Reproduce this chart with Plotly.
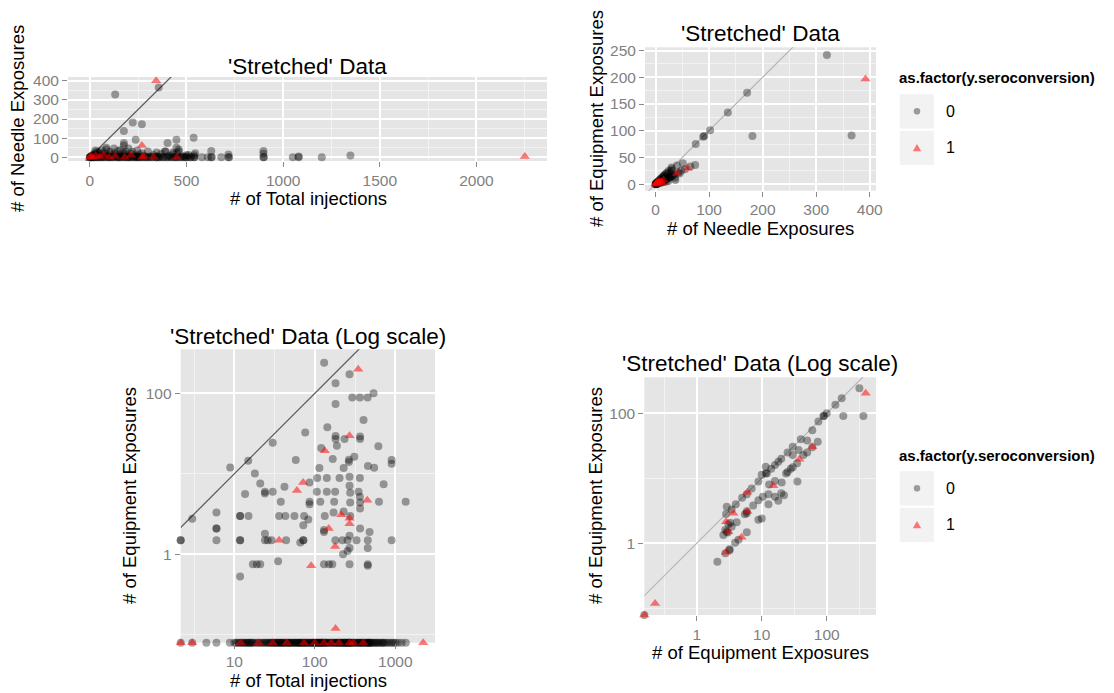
import plotly.graph_objects as go

W, H = 1114, 693
OFF = 8  # page body margin of the exported html
FONT = "Liberation Sans, Arial, sans-serif"

# ---------------- data ----------------
# Panel 1: total injections (x) vs needle exposures (y)
p1_x0 = [131, 356, 222, 269, 176, 237, 402, 448, 448, 537, 176, 176, 85, 628, 628, 717, 717, 898, 898, 898,
         1050, 1080, 1080, 1200, 1348, 580, 610, 680, 540, 540, 450, 500,
         0, 2, 5, 8, 10, 12, 15, 18, 20, 22, 25, 28, 30, 33, 36, 40, 45, 48, 50, 55, 60, 62, 65, 70, 75, 80,
         85, 90, 95, 100, 105, 110, 115, 120, 125, 130, 135, 140, 145, 150, 155, 160, 165, 170, 175, 180,
         185, 190, 195, 200, 205, 210, 215, 220, 225, 230, 240, 245, 250, 255, 260, 270, 275, 280, 290,
         300, 310, 320, 330, 340, 345, 350, 360, 370, 380, 390, 400, 410, 420, 430, 440, 450, 460, 470,
         480, 490, 500, 510, 520, 545, 28, 390, 430, 460, 100, 150, 200, 250, 300, 350, 120, 180, 240,
         0, 6, 12, 24, 36, 48, 60, 72, 90, 108, 126, 144, 162, 180, 198, 216, 234, 252, 270, 288, 306,
         324, 342, 360, 378, 396, 414, 432, 450, 468, 486, 504, 522, 540, 630, 720, 900]
p1_y0 = [328, 365, 182, 172, 137, 91, 74, 91, 49, 102, 74, 61, 50, 32, 0, 14, 0, 32, 18, 0,
         0, 4, 0, 0, 9, 0, 0, 0, 0, 10, 20, 10,
         0, 0, 2, 5, 0, 10, 3, 8, 0, 15, 5, 20, 0, 10, 30, 5, 0, 18, 25, 8, 0, 35, 12, 3, 20, 0,
         40, 10, 5, 0, 28, 15, 3, 0, 45, 20, 8, 0, 32, 12, 0, 38, 5, 22, 0, 15,
         30, 0, 8, 45, 3, 0, 18, 28, 0, 10, 0, 35, 5, 15, 0, 20, 0, 8, 0,
         30, 3, 0, 12, 0, 25, 5, 0, 18, 0, 30, 0, 8, 0, 15, 0, 0, 28, 0,
         5, 0, 0, 12, 0, 20, 35, 30, 25, 40, 0, 0, 0, 0, 0, 0, 5, 3, 2,
         0, 0, 0, 0, 0, 0, 0, 0, 0, 0, 0, 0, 0, 0, 0, 0, 0, 0, 0, 0, 0,
         0, 0, 0, 0, 0, 0, 0, 0, 0, 0, 0, 0, 0, 0, 0, 0]
p1_x1 = [343, 269, 0, 5, 15, 30, 50, 70, 100, 130, 180, 213, 270, 280, 330, 450, 2250]
p1_y1 = [400, 61, 0, 3, 0, 8, 2, 12, 0, 5, 0, 10, 0, 5, 0, 0, 4]

# Panel 2: needle exposures (x) vs equipment exposures (y)
p2_x0 = [320, 366, 181, 171, 135, 102, 91, 89, 75, 74, 65, 51, 48, 30, 30, 30, 37, 42, 35, 28, 25, 22,
         20, 18, 16, 15, 14, 12, 10, 9, 8, 6, 5, 4, 3, 2, 1, 0, 20, 18, 16, 14, 12, 10, 8, 6, 4, 2,
         25, 30, 24, 20, 16, 12, 8, 4, 28, 32, 36, 45, 55, 40, 0, 1, 2, 3, 5, 7, 11, 13, 17, 19, 23, 26]
p2_y0 = [242, 91, 90, 171, 134, 101, 90, 89, 75, 36, 33, 39, 25, 31, 28, 25, 8, 22, 18, 20, 25, 22,
         20, 18, 16, 15, 14, 12, 10, 9, 8, 6, 5, 4, 3, 2, 1, 0, 10, 9, 8, 7, 6, 5, 4, 3, 2, 1,
         12, 15, 6, 5, 4, 3, 2, 1, 14, 16, 12, 20, 28, 35, 0, 0, 1, 1, 2, 3, 5, 6, 8, 9, 11, 13]
p2_x1 = [392, 60, 0, 1, 2, 3, 4, 6, 8, 10, 12, 5, 15, 40]
p2_y1 = [197, 30, 0, 1, 1, 3, 2, 3, 4, 5, 3, 5, 8, 20]

# Panel 3: total injections (x, log) vs equipment exposures (y, log); zeros sit on the panel edge
p3_x0 = [130.6, 270, 181, 181, 363, 292, 453, 537, 403, 143, 181, 181, 365, 365, 234, 188, 616, 120, 309,
         265, 265, 167, 30, 76, 58, 14.9, 8.9, 900, 900, 457, 228, 114, 18, 203, 270, 270, 363, 363, 107,
         141, 546, 716, 86, 21, 42, 24, 24, 30, 13.6, 106, 141, 179, 275, 350, 627, 1346, 275, 174, 117,
         86, 86, 37.8, 365, 365, 228, 171, 133, 73.6, 55.8, 43, 36, 15, 11.8, 11.8, 6, 3, 275, 365, 479,
         130, 130, 83, 72, 6, 6, 0, 0, 11.8, 11.8, 24, 26, 29, 44, 72, 72, 6, 180, 220, 255, 270, 270,
         255, 330, 455, 455, 24, 66, 224, 130, 150, 165, 270, 455, 455, 17, 19, 21, 35, 11.8, 900]
p3_y0 = [240, 172, 133, 73.7, 89, 89, 89, 100, 46.6, 37.8, 29.5, 27, 29, 27, 27, 22.4, 22, 21, 16.3,
         15, 14, 15.3, 24.4, 32.5, 14.9, 14.5, 12, 14.8, 13.3, 12.5, 11.8, 11.8, 10.1, 8.9, 9.2, 7.1, 8.9,
         5.2, 8.9, 8.9, 11.9, 7.4, 7.8, 7.6, 6.9, 6, 5.7, 6, 5.6, 6, 6, 6, 5.8, 6, 4.5, 4.5, 4.4, 4.5,
         4.5, 4.5, 4.2, 4.5, 4.4, 3.7, 3.4, 3.3, 3.0, 3.0, 3.0, 3.0, 3.0, 3.0, 3.0, 3.0, 3.3, 2.77, 3.0,
         2.1, 1.9, 1.9, 2.0, 2.7, 2.3, 2.1, 2.1, 1.5, 1.5, 1.5, 1.5, 1.5, 1.5, 1.5, 1.5, 1.5, 1.5, 1.5,
         1.5, 1.5, 1.5, 1.7, 1.2, 1.1, 1.5, 1.5, 1.2, 1.8, 1.4, 1.0, 0.75, 0.75, 0.75, 0.75, 0.75, 0.72,
         0.75, 0.75, 0.75, 0.82, 0.53, 1.5]
p3_xzero0 = [0, 3, 4.5, 6, 8.8, 10, 11, 12, 13, 14, 15, 16, 17, 18, 20, 21, 22, 24, 25, 27, 28, 30, 32,
             34, 36, 38, 40, 42, 45, 48, 50, 52, 55, 58, 60, 63, 66, 70, 72, 75, 80, 85, 90, 95, 100, 105,
             110, 115, 120, 125, 130, 135, 140, 150, 160, 170, 180, 190, 200, 210, 220, 230, 240, 250, 260,
             270, 280, 300, 320, 340, 360, 380, 400, 430, 450, 480, 500, 540, 580, 620, 680, 720, 800, 900,
             1000, 1080, 1200, 1350,
             10.5, 11.5, 12.5, 13.5, 14.5, 15.5, 16.5, 19, 23, 26, 29, 31, 33, 35, 37, 39, 41, 44, 47, 49,
             54, 57, 62, 65, 68, 74, 78, 82, 88, 93, 98, 102, 108, 112, 118, 122, 128, 138, 145, 155, 165,
             175, 185, 195, 205, 215, 225, 235, 245, 255, 265, 275, 290, 310, 330, 350, 370, 390, 410, 440,
             460, 470, 490, 520, 560, 600, 650, 700, 760, 850, 950]
p3_x1 = [346, 133, 270, 71.6, 60, 448, 213, 270, 270, 149, 36, 179, 90, 181]
p3_y1 = [199, 19.4, 29.8, 7.8, 6.2, 4.7, 3.1, 2.8, 2.4, 2.1, 1.5, 1.25, 0.72, 0.12]
p3_xzero1 = [0, 3, 12, 20, 30, 45, 73.5, 100, 130, 160, 200, 270, 300, 400, 2220]

# Panel 4: needle exposures (x, log) vs equipment exposures (y, log)
p4_x0 = [318, 366, 180, 170, 136, 100, 89, 91, 74.5, 72.8, 50, 43.8, 30, 30, 30, 35.4, 37, 23.7, 20.3,
         16, 16, 12.7, 11.5, 11.5, 10, 8.9, 8.9, 8.9, 10, 10.4, 13, 7.4, 5.9, 5.9, 5.9, 5.9, 5.5, 4.4,
         3.9, 3.45, 2.9, 2.83, 3.07, 3.27, 3.45, 4.12, 2.75, 2.9, 3.0, 2.57, 3.2, 3.2, 2.76, 2.08, 0,
         4, 5, 7, 12, 14, 18, 20, 25, 40, 60, 12.7, 20, 16, 25, 35, 50, 60, 18, 22, 28]
p4_y0 = [243, 91, 91, 170, 136, 100, 91, 91, 74.5, 36.6, 38, 22.8, 30.7, 22.8, 14.8, 8.9, 27.3, 11.9,
         8.6, 16, 9.1, 4.0, 15.1, 11.9, 11.3, 8.9, 4.6, 2.3, 2.4, 5.2, 8, 3.8, 5.7, 3.1, 2.9, 1.48, 2.8,
         1.13, 1.02, 3.3, 3.66, 2.83, 1.96, 2.08, 1.8, 2.1, 1.6, 1.5, 1.46, 1.34, 0.81, 0.78, 0.70, 0.52, 0,
         4, 5, 7, 12, 14, 18, 20, 25, 40, 55, 5.7, 5.9, 5.2, 12.5, 17, 25, 30, 4.5, 5.5, 14]
p4_x1 = [398, 60, 38, 15.1, 6, 6, 4.9, 3.66, 2.83, 3.07, 2.83, 0.229, 0]
p4_y1 = [203, 30.7, 19.6, 7.7, 6.1, 3.1, 1.24, 2.9, 2.15, 1.5, 0.73, 0.119, 0]

legend_title = "as.factor(y.seroconversion)"
legend_labels = ["0", "1"]
panel_titles = ["'Stretched' Data", "'Stretched' Data",
                "'Stretched' Data (Log scale)", "'Stretched' Data (Log scale)"]
x_titles = ["# of Total injections", "# of Needle Exposures",
            "# of Total injections", "# of Equipment Exposures"]
y_titles = ["# of Needle Exposures", "# of Equipment Exposures",
            "# of Equipment Exposures", "# of Equipment Exposures"]

# ---------------- styling ----------------
COL0 = "rgba(0,0,0,0.36)"
COL1 = "rgba(255,0,0,0.52)"
SIZE0, SIZE1 = 8, 9


def px(x):
    return (x - OFF) / W


def py(y):
    return 1 - (y - OFF) / H


# panel pixel boxes: (left, right, top, bottom)
boxes = [(68, 547, 77, 161), (645, 876, 47.3, 190.7), (180.7, 435, 349.3, 642.7), (644.3, 876, 377.3, 615)]

ranges = {
    1: dict(x=[-113, 2365], y=[-20, 420]),
    2: dict(x=[-19.6, 411.6], y=[-12.2, 256.2]),
    3: dict(x=[0.334, 3.493], y=[-1.098, 2.547]),
    4: dict(x=[-0.806, 2.758], y=[-1.103, 2.554]),
}

fig = go.Figure()


def axname(i, a):
    return a if i == 1 else f"{a}{i}"


def squish(vals, lo):
    return [v if v > 0 else lo for v in vals]


def add_points(i, xs, ys, col, sym, size, log=False):
    if log:
        xs = squish(xs, 10 ** ranges[i]["x"][0])
        ys = squish(ys, 10 ** ranges[i]["y"][0])
    fig.add_trace(go.Scatter(x=xs, y=ys, mode="markers", xaxis=axname(i, "x"), yaxis=axname(i, "y"),
                             marker=dict(symbol=sym, size=size, color=col, line=dict(width=0)),
                             cliponaxis=False, showlegend=False, hoverinfo="skip"))


def add_identity(i, color, width, log=False):
    xr = ranges[i]["x"]
    if log:
        xs = [10 ** xr[0], 10 ** xr[1]]
    else:
        xs = [xr[0], xr[1]]
    fig.add_trace(go.Scatter(x=xs, y=xs, mode="lines", xaxis=axname(i, "x"), yaxis=axname(i, "y"),
                             line=dict(color=color, width=width), showlegend=False, hoverinfo="skip"))


# panel 1
add_identity(1, "#5e5e5e", 1.3)
add_points(1, p1_x0, p1_y0, COL0, "circle", SIZE0)
add_points(1, p1_x1, p1_y1, COL1, "triangle-up", SIZE1)
# panel 2
add_identity(2, "#b5b5b5", 1.2)
add_points(2, p2_x0, p2_y0, COL0, "circle", SIZE0)
add_points(2, p2_x1, p2_y1, COL1, "triangle-up", SIZE1)
# panel 3
add_identity(3, "#5e5e5e", 1.3, log=True)
add_points(3, p3_x0, p3_y0, COL0, "circle", SIZE0, log=True)
add_points(3, p3_xzero0, [0] * len(p3_xzero0), COL0, "circle", SIZE0, log=True)
add_points(3, p3_x1, p3_y1, COL1, "triangle-up", SIZE1, log=True)
add_points(3, p3_xzero1, [0] * len(p3_xzero1), COL1, "triangle-up", SIZE1, log=True)
# panel 4
add_identity(4, "#b5b5b5", 1.2, log=True)
add_points(4, p4_x0, p4_y0, COL0, "circle", SIZE0, log=True)
add_points(4, p4_x1, p4_y1, COL1, "triangle-up", SIZE1, log=True)

tickfont = dict(family=FONT, size=15.5, color="#7f7f7f")
base = dict(showline=False, zeroline=False, ticks="outside", ticklen=5, tickwidth=1, tickcolor="#8a8a8a",
            tickfont=tickfont, showgrid=True, gridcolor="white", gridwidth=1.5, automargin=False)
minor_base = dict(showgrid=True, gridcolor="#f2f2f2", gridwidth=0.8, ticks="", tickmode="array")

axis_specs = {
    1: dict(xt=[0, 500, 1000, 1500, 2000], xm=[250, 750, 1250, 1750, 2250],
            yt=[0, 100, 200, 300, 400], ym=[50, 150, 250, 350], log=False),
    2: dict(xt=[0, 100, 200, 300, 400], xm=[50, 150, 250, 350],
            yt=[0, 50, 100, 150, 200, 250], ym=[25, 75, 125, 175, 225], log=False),
    3: dict(xt=[10, 100, 1000], xm=[10 ** 0.5, 10 ** 1.5, 10 ** 2.5],
            yt=[1, 100], ym=[0.1, 10], log=True),
    4: dict(xt=[1, 10, 100], xm=[10 ** -0.5, 10 ** 0.5, 10 ** 1.5, 10 ** 2.5],
            yt=[1, 100], ym=[0.1, 10], log=True),
}

layout_axes = {}
for i in range(1, 5):
    l, r, t, b = boxes[i - 1]
    s = axis_specs[i]
    typ = "log" if s["log"] else "linear"
    xa = dict(base, domain=[px(l), px(r)], range=ranges[i]["x"], type=typ, anchor=axname(i, "y"),
              tickmode="array", tickvals=s["xt"], ticktext=[f"{v:g}" for v in s["xt"]],
              minor=dict(minor_base, tickvals=s["xm"]))
    ya = dict(base, domain=[py(b), py(t)], range=ranges[i]["y"], type=typ, anchor=axname(i, "x"),
              tickmode="array", tickvals=s["yt"], ticktext=[f"{v:g}" for v in s["yt"]],
              minor=dict(minor_base, tickvals=s["ym"]))
    layout_axes["xaxis" if i == 1 else f"xaxis{i}"] = xa
    layout_axes["yaxis" if i == 1 else f"yaxis{i}"] = ya

annotations = []
title_pos = [(307.5, 66), (760, 34), (308, 337), (760, 363)]
xt_pos = [(308, 198), (760, 228), (308, 680), (760, 652)]
yt_pos = [(17, 119), (596, 119), (130, 496), (596, 496)]
for i in range(4):
    annotations.append(dict(text=panel_titles[i], x=px(title_pos[i][0]), y=py(title_pos[i][1]),
                            xref="paper", yref="paper", showarrow=False, xanchor="center", yanchor="middle",
                            font=dict(family=FONT, size=22.5, color="black")))
    annotations.append(dict(text=x_titles[i], x=px(xt_pos[i][0]), y=py(xt_pos[i][1]),
                            xref="paper", yref="paper", showarrow=False, xanchor="center", yanchor="middle",
                            borderpad=0, font=dict(family=FONT, size=18.5, color="black")))
    annotations.append(dict(text=y_titles[i], x=px(yt_pos[i][0]), y=py(yt_pos[i][1]), textangle=-90,
                            xref="paper", yref="paper", showarrow=False, xanchor="center", yanchor="middle",
                            borderpad=0, font=dict(family=FONT, size=18.5, color="black")))

shapes = []
for top in (78, 455):
    annotations.append(dict(text="<b>" + legend_title + "</b>", x=px(898), y=py(top), xref="paper",
                            yref="paper", showarrow=False, xanchor="left", yanchor="middle", borderpad=0,
                            font=dict(family=FONT, size=15, color="black")))
    for k, lab in enumerate(legend_labels):
        y0 = top + 15.7 + k * 36.6
        y1 = y0 + 35.3
        cy = (y0 + y1) / 2
        shapes.append(dict(type="rect", xref="paper", yref="paper", x0=px(899.3), x1=px(934.3),
                           y0=py(y1), y1=py(y0), fillcolor="#f2f2f2", line=dict(color="white", width=1),
                           layer="below"))
        if k == 0:
            shapes.append(dict(type="circle", xref="paper", yref="paper", x0=px(917 - 3.3), x1=px(917 + 3.3),
                               y0=py(cy + 3.3), y1=py(cy - 3.3), fillcolor=COL0, line=dict(width=0)))
        else:
            path = (f"M {px(917 - 4.2)},{py(cy + 3.4)} L {px(917 + 4.2)},{py(cy + 3.4)} "
                    f"L {px(917)},{py(cy - 3.9)} Z")
            shapes.append(dict(type="path", xref="paper", yref="paper", path=path, fillcolor=COL1,
                               line=dict(width=0)))
        annotations.append(dict(text=lab, x=px(944), y=py(cy), xref="paper", yref="paper", showarrow=False,
                                xanchor="left", yanchor="middle",
                                font=dict(family=FONT, size=16, color="black")))

fig.update_layout(width=W, height=H, margin=dict(l=0, r=0, t=0, b=0), paper_bgcolor="white",
                  plot_bgcolor="#e5e5e5", font=dict(family=FONT), showlegend=False,
                  annotations=annotations, shapes=shapes, **layout_axes)

fig.write_html("out.html")
